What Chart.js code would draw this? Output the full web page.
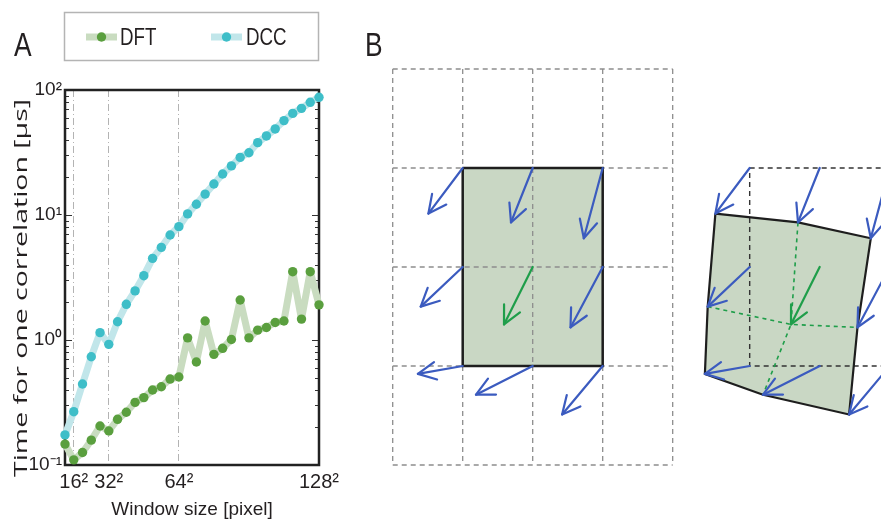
<!DOCTYPE html>
<html>
<head>
<meta charset="utf-8">
<script src="https://cdn.jsdelivr.net/npm/chart.js@4/dist/chart.umd.min.js"></script>
<style>
  html, body { margin: 0; padding: 0; background: #fff; }
  #wrap { position: relative; width: 881px; height: 525px; overflow: hidden; }
  canvas { position: absolute; top: 0; }
  #chartA { left: 0; }
  #chartB { left: 340px; }
</style>
</head>
<body>
<div id="wrap">
  <canvas id="chartA" width="345" height="525"></canvas>
  <canvas id="chartB" width="541" height="525"></canvas>
</div>
<script>
// ---- Panel A data: time for one correlation vs. window side length ----
const windowSides = [12, 16, 20, 24, 28, 32, 36, 40, 44, 48, 52, 56, 60, 64, 68,
  72, 76, 80, 84, 88, 92, 96, 100, 104, 108, 112, 116, 120, 124, 128]
const dftTimes = [0.147, 0.11, 0.126, 0.158, 0.205, 0.187, 0.232, 0.264, 0.317, 0.346,
  0.398, 0.423, 0.487, 0.506, 1.04, 0.667, 1.42, 0.768, 0.858, 1.01,
  2.09, 1.04, 1.2, 1.26, 1.38, 1.42, 3.52, 1.47, 3.52, 1.91]
const dccTimes = [0.174, 0.267, 0.445, 0.735, 1.145, 0.923, 1.4, 1.93, 2.47, 3.27,
  4.5, 5.51, 6.92, 8.07, 10.2, 12.2, 14.7, 17.7, 21.3, 24.7,
  28.9, 31.5, 37.9, 42.9, 48.8, 56.9, 65.0, 71.3, 79.7, 87.4]
const xTickSides = [16, 32, 64, 128]
const yTickValues = [0.1, 1, 10, 100]
const yTickLabels = ["10\u207B\u00B9", "10\u2070", "10\u00B9", "10\u00B2"]
const seriesLabels = ["DFT", "DCC"]

// ---- Panel B data: grid nodes and their displacements (in cell units) ----
const gridLines = [0, 1, 2, 3, 4]
const nodeCols = [1, 2, 3]
const nodeRows = [1, 2, 3]
const shiftX = [
  [-0.49, -0.31, -0.27],
  [-0.60, -0.41, -0.46],
  [-0.64, -0.81, -0.58],
]
const shiftY = [
  [0.46, 0.55, 0.71],
  [0.40, 0.58, 0.61],
  [0.08, 0.29, 0.49],
]
const panelOffsets = [0, 4.1]

const FONT = "'Liberation Sans', Arial, sans-serif"
const INK = "#231f20"

// texto estreito (a fonte condensada do original não existe aqui)
function narrowText(ctx, text, x, y, size, align, squeeze) {
  ctx.save()
  ctx.font = size + "px " + FONT
  ctx.textAlign = align
  ctx.translate(x, y)
  ctx.scale(squeeze, 1)
  ctx.fillText(text, 0, 0)
  ctx.restore()
}

/**
 * Moldura, marcas menores, legenda e textos do painel A
 */
const frameA = {
  id: "frameA",
  beforeDatasetsDraw(chart) {
    const { ctx, chartArea: a } = chart
    const y = chart.scales.y
    ctx.save()
    ctx.strokeStyle = "#333"
    ctx.lineWidth = 1
    for (let d = 0.1; d < 100; d *= 10) {
      for (let m = 1; m < 10; m++) {
        const py = Math.round(y.getPixelForValue(d * m)) + 0.5
        const len = m === 1 ? 7 : 4
        ctx.beginPath()
        ctx.moveTo(a.left, py)
        ctx.lineTo(a.left + len, py)
        ctx.moveTo(a.right, py)
        ctx.lineTo(a.right - len, py)
        ctx.stroke()
      }
    }
    ctx.strokeStyle = "#222"
    ctx.lineWidth = 2.5
    ctx.strokeRect(a.left, a.top, a.right - a.left, a.bottom - a.top)
    ctx.restore()
  },
  afterDraw(chart) {
    const { ctx } = chart
    ctx.save()
    // legenda
    ctx.strokeStyle = "#b4b4b4"
    ctx.lineWidth = 1.5
    ctx.strokeRect(64.5, 12.5, 254, 48)
    const items = [
      { x: 86, text: 120 },
      { x: 211, text: 246 },
    ]
    chart.data.datasets.forEach((ds, i) => {
      const it = items[i]
      ctx.strokeStyle = ds.borderColor
      ctx.lineWidth = ds.borderWidth
      ctx.beginPath()
      ctx.moveTo(it.x, 37)
      ctx.lineTo(it.x + 31, 37)
      ctx.stroke()
      ctx.fillStyle = ds.pointBackgroundColor
      ctx.beginPath()
      ctx.arc(it.x + 15.5, 37, ds.pointRadius, 0, Math.PI * 2)
      ctx.fill()
      ctx.fillStyle = INK
      ctx.textBaseline = "middle"
      narrowText(ctx, ds.label, it.text, 38, 24, "left", 0.78)
    })
    // letra do painel
    ctx.textBaseline = "alphabetic"
    narrowText(ctx, "A", 14, 56, 33, "left", 0.8)
    // título do eixo y, esticado como no original
    const title = "Time for one correlation [\u03BCs]"
    ctx.font = "19px 'Open Sans', sans-serif"
    const w = ctx.measureText(title).width
    ctx.translate(22, 288)
    ctx.rotate(-Math.PI / 2)
    ctx.scale(378 / w, 1)
    ctx.textAlign = "center"
    ctx.textBaseline = "middle"
    ctx.fillText(title, 0, 0)
    ctx.restore()
  },
}

new Chart(document.getElementById("chartA"), {
  type: "line",
  data: {
    datasets: [
      {
        label: seriesLabels[0],
        data: windowSides.map((s, i) => ({ x: s, y: dftTimes[i] })),
        borderColor: "#c9dcc0",
        borderWidth: 7,
        borderJoinStyle: "round",
        pointRadius: 4.7,
        pointBackgroundColor: "#5a9f3e",
        pointBorderWidth: 0,
        clip: false,
      },
      {
        label: seriesLabels[1],
        data: windowSides.map((s, i) => ({ x: s, y: dccTimes[i] })),
        borderColor: "#c1e6ea",
        borderWidth: 7,
        borderJoinStyle: "round",
        pointRadius: 4.7,
        pointBackgroundColor: "#3ebec8",
        pointBorderWidth: 0,
        clip: false,
      },
    ],
  },
  options: {
    responsive: false,
    animation: false,
    layout: { padding: { top: 90, right: 26, left: 0, bottom: 0 } },
    plugins: { legend: { display: false }, tooltip: { enabled: false } },
    scales: {
      x: {
        type: "linear",
        min: 12,
        max: 128,
        afterBuildTicks: (scale) => {
          scale.ticks = xTickSides.map((v) => ({ value: v }))
        },
        afterFit: (scale) => {
          scale.height = 60
        },
        grid: { color: "#b3b3b3", lineWidth: 1, drawTicks: false },
        border: { display: false, dash: [7, 3, 1, 3] },
        ticks: {
          padding: 5,
          color: INK,
          font: { family: FONT, size: 20 },
          maxRotation: 0,
          callback: (v) => v + "\u00B2",
        },
        title: {
          display: true,
          text: "Window size [pixel]",
          color: INK,
          font: { family: FONT, size: 19 },
          padding: { top: 0, bottom: 4 },
        },
      },
      y: {
        type: "logarithmic",
        min: 0.1,
        max: 100,
        afterBuildTicks: (scale) => {
          scale.ticks = yTickValues.map((v) => ({ value: v, major: true }))
        },
        afterFit: (scale) => {
          scale.width = 65
        },
        grid: { display: false, drawTicks: false },
        border: { display: false },
        ticks: {
          padding: 3,
          color: INK,
          font: { family: FONT, size: 19 },
          callback: (v) => yTickLabels[yTickValues.indexOf(v)],
        },
      },
    },
  },
  plugins: [frameA],
})

// ---- Panel B ----
function nodePoint(p, r, c, moved) {
  return {
    x: panelOffsets[p] + nodeCols[c] + (moved ? shiftX[r][c] : 0),
    y: nodeRows[r] + (moved ? shiftY[r][c] : 0),
  }
}

const ring = [[0, 0], [0, 1], [0, 2], [1, 2], [2, 2], [2, 1], [2, 0], [1, 0], [0, 0]]
const GAP = { x: null, y: null }

// grelha tracejada cinza do painel esquerdo
const gridData = []
gridLines.forEach((g) => {
  gridData.push({ x: g, y: gridLines[0] }, { x: g, y: gridLines[gridLines.length - 1] }, GAP)
  gridData.push({ x: gridLines[0], y: g }, { x: gridLines[gridLines.length - 1], y: g }, GAP)
})

const blueArrows = []
const greenArrows = []
panelOffsets.forEach((_, p) => {
  nodeRows.forEach((_r, r) => {
    nodeCols.forEach((_c, c) => {
      const target = r === 1 && c === 1 ? greenArrows : blueArrows
      target.push(nodePoint(p, r, c, false), nodePoint(p, r, c, true), GAP)
    })
  })
})

const midLines = [
  nodePoint(1, 1, 0, true), nodePoint(1, 1, 1, true), nodePoint(1, 1, 2, true), GAP,
  nodePoint(1, 0, 1, true), nodePoint(1, 1, 1, true), nodePoint(1, 2, 1, true),
]

const leftCell = ring.map(([r, c]) => nodePoint(0, r, c, false))
const rightCell = ring.map(([r, c]) => nodePoint(1, r, c, true))
const rightOutline = ring.map(([r, c]) => nodePoint(1, r, c, false))

const CELL_FILL = "#c9d7c4"
const BLUE = "#3b5bbf"
const GREEN = "#1f9e4a"

const arrowHeads = {
  id: "arrowHeads",
  afterDatasetsDraw(chart) {
    const { ctx } = chart
    const xs = chart.scales.x
    const ys = chart.scales.y
    ctx.save()
    chart.data.datasets.forEach((ds) => {
      if (!ds.arrowHeads) return
      ctx.strokeStyle = ds.borderColor
      ctx.lineWidth = ds.borderWidth
      ctx.lineCap = "round"
      ctx.lineJoin = "round"
      for (let i = 0; i + 1 < ds.data.length; i += 3) {
        const a = ds.data[i]
        const b = ds.data[i + 1]
        const ax = xs.getPixelForValue(a.x)
        const ay = ys.getPixelForValue(a.y)
        const bx = xs.getPixelForValue(b.x)
        const by = ys.getPixelForValue(b.y)
        const ang = Math.atan2(by - ay, bx - ax)
        const len = 20
        const spread = 0.46
        ctx.beginPath()
        ctx.moveTo(bx - len * Math.cos(ang - spread), by - len * Math.sin(ang - spread))
        ctx.lineTo(bx, by)
        ctx.lineTo(bx - len * Math.cos(ang + spread), by - len * Math.sin(ang + spread))
        ctx.stroke()
      }
    })
    ctx.restore()
  },
  afterDraw(chart) {
    const { ctx } = chart
    ctx.save()
    ctx.fillStyle = INK
    narrowText(ctx, "B", 25, 56, 33, "left", 0.8)
    ctx.restore()
  },
}

const lineDs = (data, extra) =>
  Object.assign(
    {
      data,
      showLine: true,
      pointRadius: 0,
      spanGaps: false,
      fill: false,
      clip: false,
      tension: 0,
    },
    extra
  )

new Chart(document.getElementById("chartB"), {
  type: "scatter",
  data: {
    datasets: [
      lineDs(leftCell, { order: 9, borderColor: "rgba(0,0,0,0)", borderWidth: 0, backgroundColor: CELL_FILL, fill: "shape" }),
      lineDs(rightCell, { order: 9, borderColor: "rgba(0,0,0,0)", borderWidth: 0, backgroundColor: CELL_FILL, fill: "shape" }),
      lineDs(gridData, { order: 8, borderColor: "#8d8d8d", borderWidth: 1.3, borderDash: [5, 4] }),
      lineDs(rightOutline, { order: 8, borderColor: "#333", borderWidth: 1.4, borderDash: [5, 4] }),
      lineDs(leftCell, { order: 7, borderColor: "#1e1e1e", borderWidth: 2.5 }),
      lineDs(rightCell, { order: 7, borderColor: "#1e1e1e", borderWidth: 2.2 }),
      lineDs(midLines, { order: 6, borderColor: GREEN, borderWidth: 1.6, borderDash: [4, 4] }),
      lineDs(blueArrows, { order: 2, borderColor: BLUE, borderWidth: 2.2, arrowHeads: true, borderCapStyle: "round" }),
      lineDs(greenArrows, { order: 1, borderColor: GREEN, borderWidth: 2.2, arrowHeads: true, borderCapStyle: "round" }),
    ],
  },
  options: {
    responsive: false,
    animation: false,
    layout: { padding: 0 },
    plugins: { legend: { display: false }, tooltip: { enabled: false } },
    scales: {
      x: { type: "linear", display: false, min: -0.753, max: 6.976 },
      y: { type: "linear", display: false, min: -0.697, max: 4.606, reverse: true },
    },
  },
  plugins: [arrowHeads],
})
</script>
</body>
</html>
